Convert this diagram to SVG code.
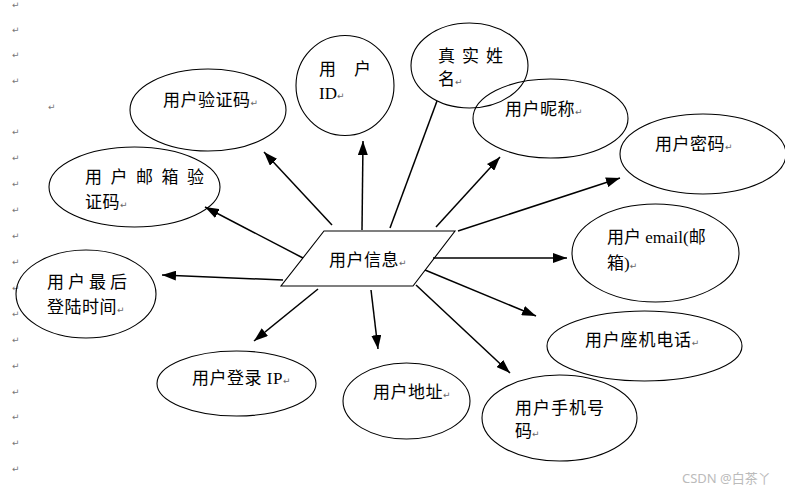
<svg xmlns="http://www.w3.org/2000/svg" width="785" height="491" viewBox="0 0 785 491">
<defs>
<marker id="arr" markerUnits="userSpaceOnUse" markerWidth="14" markerHeight="10" refX="14" refY="5" orient="auto"><path d="M0,0 L14,5 L0,10 z" fill="#000"/></marker>
<style>
.n{fill:none;stroke:#000;stroke-width:1.1}
.t{font-family:"Liberation Serif","Noto Sans CJK SC",serif;font-size:17px;fill:#000}
.p{font-family:"DejaVu Sans",sans-serif;font-size:9px;fill:#666;letter-spacing:0}
.c{stroke:#000;stroke-width:1.5;fill:none}
.m{font-family:"DejaVu Sans",sans-serif;font-size:9px;fill:#777}
</style>
</defs>
<rect width="785" height="491" fill="#fff"/>
<g id="margin-marks" class="m">
<text x="12" y="8">↵</text><text x="12" y="33">↵</text><text x="12" y="58">↵</text><text x="12" y="84">↵</text>
<text x="48" y="110">↵</text>
<text x="12" y="135">↵</text><text x="12" y="161">↵</text><text x="12" y="187">↵</text><text x="12" y="213">↵</text><text x="12" y="239">↵</text><text x="12" y="265">↵</text><text x="12" y="291">↵</text><text x="12" y="317">↵</text><text x="12" y="343">↵</text><text x="12" y="369">↵</text><text x="12" y="395">↵</text><text x="12" y="420">↵</text><text x="12" y="446">↵</text><text x="12" y="472">↵</text>
</g>
<g id="connectors">
<line class="c" x1="332" y1="225" x2="264" y2="152" marker-end="url(#arr)"/>
<line class="c" x1="362" y1="230" x2="363" y2="141" marker-end="url(#arr)"/>
<line class="c" x1="390" y1="228" x2="437" y2="101"/>
<line class="c" x1="436" y1="227" x2="500" y2="157" marker-end="url(#arr)"/>
<line class="c" x1="458" y1="231" x2="620" y2="178" marker-end="url(#arr)"/>
<line class="c" x1="433" y1="258" x2="567" y2="258" marker-end="url(#arr)"/>
<line class="c" x1="425" y1="270" x2="536" y2="316" marker-end="url(#arr)"/>
<line class="c" x1="416" y1="285" x2="510" y2="373" marker-end="url(#arr)"/>
<line class="c" x1="371" y1="290" x2="378" y2="349" marker-end="url(#arr)"/>
<line class="c" x1="318" y1="289" x2="254" y2="341" marker-end="url(#arr)"/>
<line class="c" x1="283" y1="280" x2="162" y2="275" marker-end="url(#arr)"/>
<line class="c" x1="303" y1="258" x2="205" y2="207" marker-end="url(#arr)"/>
</g>
<g id="user-info">
<polygon class="n" points="324,231 455,231 413,286 281,286"/>
<text class="t" x="329" y="266" letter-spacing="0.5">用户信息<tspan class="p">↵</tspan></text>
</g>
<g id="verify-code">
<ellipse class="n" cx="208" cy="110" rx="78" ry="41"/>
<text class="t" x="163" y="106" letter-spacing="0.5">用户验证码<tspan class="p">↵</tspan></text>
</g>
<g id="user-id">
<ellipse class="n" cx="345" cy="85.5" rx="49" ry="50"/>
<text class="t" x="319" y="75" letter-spacing="18">用户</text>
<text class="t" x="319" y="99">ID<tspan class="p">↵</tspan></text>
</g>
<g id="real-name">
<ellipse class="n" cx="469.5" cy="65.5" rx="58.5" ry="42.5"/>
<text class="t" x="438" y="62" letter-spacing="7">真实姓</text>
<text class="t" x="438" y="85">名<tspan class="p">↵</tspan></text>
</g>
<g id="nickname">
<ellipse class="n" cx="550.5" cy="118.5" rx="77.5" ry="39.5"/>
<text class="t" x="505" y="115" letter-spacing="0.5">用户昵称<tspan class="p">↵</tspan></text>
</g>
<g id="password">
<ellipse class="n" cx="703" cy="154" rx="83" ry="40"/>
<text class="t" x="655" y="150" letter-spacing="0.5">用户密码<tspan class="p">↵</tspan></text>
</g>
<g id="email-code">
<ellipse class="n" cx="134.5" cy="187" rx="85.5" ry="40"/>
<text class="t" x="85" y="183" letter-spacing="8.5">用户邮箱验</text>
<text class="t" x="85" y="208" letter-spacing="0.5">证码<tspan class="p">↵</tspan></text>
</g>
<g id="last-login">
<ellipse class="n" cx="86" cy="294" rx="70" ry="44"/>
<text class="t" x="47" y="288" letter-spacing="4">用户最后</text>
<text class="t" x="47" y="313" letter-spacing="0.5">登陆时间<tspan class="p">↵</tspan></text>
</g>
<g id="email">
<ellipse class="n" cx="655.5" cy="253" rx="83.5" ry="49"/>
<text class="t" x="607" y="243">用户 email(邮</text>
<text class="t" x="607" y="269">箱)<tspan class="p">↵</tspan></text>
</g>
<g id="landline">
<ellipse class="n" cx="644.5" cy="346" rx="97.5" ry="35"/>
<text class="t" x="585" y="346" letter-spacing="0.8">用户座机电话<tspan class="p">↵</tspan></text>
</g>
<g id="login-ip">
<ellipse class="n" cx="236.5" cy="383.5" rx="79.5" ry="32.5"/>
<text class="t" x="192" y="384" letter-spacing="0.5">用户登录 IP<tspan class="p">↵</tspan></text>
</g>
<g id="address">
<ellipse class="n" cx="406.5" cy="401" rx="63.5" ry="38"/>
<text class="t" x="373" y="398" letter-spacing="0.5">用户地址<tspan class="p">↵</tspan></text>
</g>
<g id="mobile">
<ellipse class="n" cx="559.5" cy="418" rx="77.5" ry="43"/>
<text class="t" x="515" y="414" letter-spacing="1">用户手机号</text>
<text class="t" x="515" y="437">码<tspan class="p">↵</tspan></text>
</g>
<text x="682" y="483" font-family="'Noto Sans','Noto Sans CJK SC',sans-serif" font-size="13" fill="#bbb">CSDN @白茶丫</text>
</svg>
